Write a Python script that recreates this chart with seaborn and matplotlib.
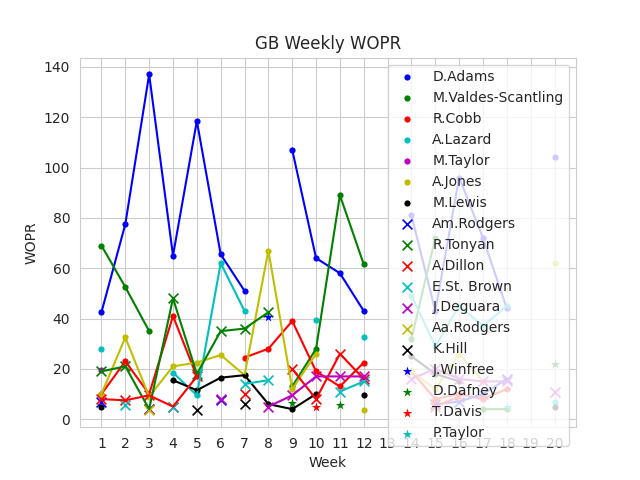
import numpy as np
import matplotlib
matplotlib.use("Agg")
import matplotlib.pyplot as plt
import seaborn as sns

n = np.nan
weeks = list(range(1, 21))
# weeks 1..20 (13 = bye)
d_adams    = [42.5, 77.5, 137, 65, 118.5, 65.5, 51, n, 107, 64, 58, 43, n, 81, 43, 96, 72, 44, n, 104]
mvs        = [69, 52.5, 35, n, n, n, n, n, 13, 28, 89, 61.5, n, 32, 72, n, 4, 4, n, n]
r_cobb     = [10, 23, 10, 41, 17, n, 24.5, 28, 39, 19, 13, 22.5, n, 19, 8, 10, 8, 12, n, n]
a_lazard   = [28, n, n, 18.5, 9.5, 62, 43, n, n, 39.5, n, 32.5, n, 49, 29, 45, 37, 45, n, 7]
m_taylor   = [19.5, n, n, n, n, n, n, n, n, n, n, n, n, n, n, n, n, n, n, n]
a_jones    = [10, 32.5, 9, 21, 22.5, 25.5, 17.5, 67, 12, 26, n, 3.5, n, 19, 12, 26, 15, n, n, 62]
m_lewis    = [5, n, n, 15.5, 11.5, 16.5, 17.5, 6, 4, 10, n, 9.5, n, 25, 18, 15, n, n, n, 5]
am_rodgers = [7, n, n, n, n, 7.5, n, n, n, n, n, n, n, n, 6, 7, 10, 16, n, n]
r_tonyan   = [19, 21, 4, 48, 18, 35, 36, 42.5, n, n, n, n, n, n, n, n, n, n, n, n]
a_dillon   = [8, 7.5, 9.5, 5, 17, n, 10, n, 20, 8, 26, 16, n, n, 5, 9, n, n, n, n]
e_stbrown  = [n, 5.5, n, 5, n, n, 14, 15.5, n, n, 11, 15, n, n, n, n, n, n, n, n]
j_deguara  = [n, n, 4, n, n, 8, n, 5, 9.5, 17, 17, 17, n, 16, 20, 16, 15, 15, n, 11]
aa_rodgers = [n, n, 3.5, n, n, n, n, n, n, n, n, n, n, n, n, n, n, n, n, n]
k_hill     = [n, n, n, n, 3.5, n, 6, n, n, n, n, n, n, n, n, n, n, n, n, n]
j_winfree  = [n, n, n, n, n, n, n, 40.5, n, n, n, n, n, n, n, n, n, n, n, n]
d_dafney   = [n, n, n, n, n, n, n, n, 6.5, n, 5.5, n, n, n, n, n, n, n, n, 22]
t_davis    = [n, n, n, n, n, n, n, n, n, 5, n, n, n, n, 7, n, 9, n, n, n]
p_taylor   = [n, n, n, n, n, n, n, n, n, n, n, n, n, n, n, n, n, 5, n, n]

B, G, R, C, M, Y, K = "#0000ff", "#008000", "#ff0000", "#00bfbf", "#bf00bf", "#bfbf00", "#000000"
series = [
    ("D.Adams", d_adams, B, "o"), ("M.Valdes-Scantling", mvs, G, "o"),
    ("R.Cobb", r_cobb, R, "o"), ("A.Lazard", a_lazard, C, "o"),
    ("M.Taylor", m_taylor, M, "o"), ("A.Jones", a_jones, Y, "o"),
    ("M.Lewis", m_lewis, K, "o"), ("Am.Rodgers", am_rodgers, B, "x"),
    ("R.Tonyan", r_tonyan, G, "x"), ("A.Dillon", a_dillon, R, "x"),
    ("E.St. Brown", e_stbrown, C, "x"), ("J.Deguara", j_deguara, M, "x"),
    ("Aa.Rodgers", aa_rodgers, Y, "x"), ("K.Hill", k_hill, K, "x"),
    ("J.Winfree", j_winfree, B, "*"), ("D.Dafney", d_dafney, G, "*"),
    ("T.Davis", t_davis, R, "*"), ("P.Taylor", p_taylor, C, "*"),
]

sns.set_style("whitegrid")
fig, ax = plt.subplots(figsize=(6.4, 4.8), dpi=100)
for name, vals, c, m in series:
    ax.plot(weeks, vals, color=c, lw=1.5)
    ms = 20 if m == "o" else 50
    sns.scatterplot(x=weeks, y=vals, color=c, marker=m, s=ms, ax=ax, label=name,
                    linewidth=1.2 if m == "x" else 0)
ax.set_xticks(weeks)
ax.set_xlim(0.1, 20.9)
ax.set_xlabel("Week")
ax.set_ylabel("WOPR")
ax.set_title("GB Weekly WOPR")
ax.legend(loc="upper right")
fig.savefig("out.png")
